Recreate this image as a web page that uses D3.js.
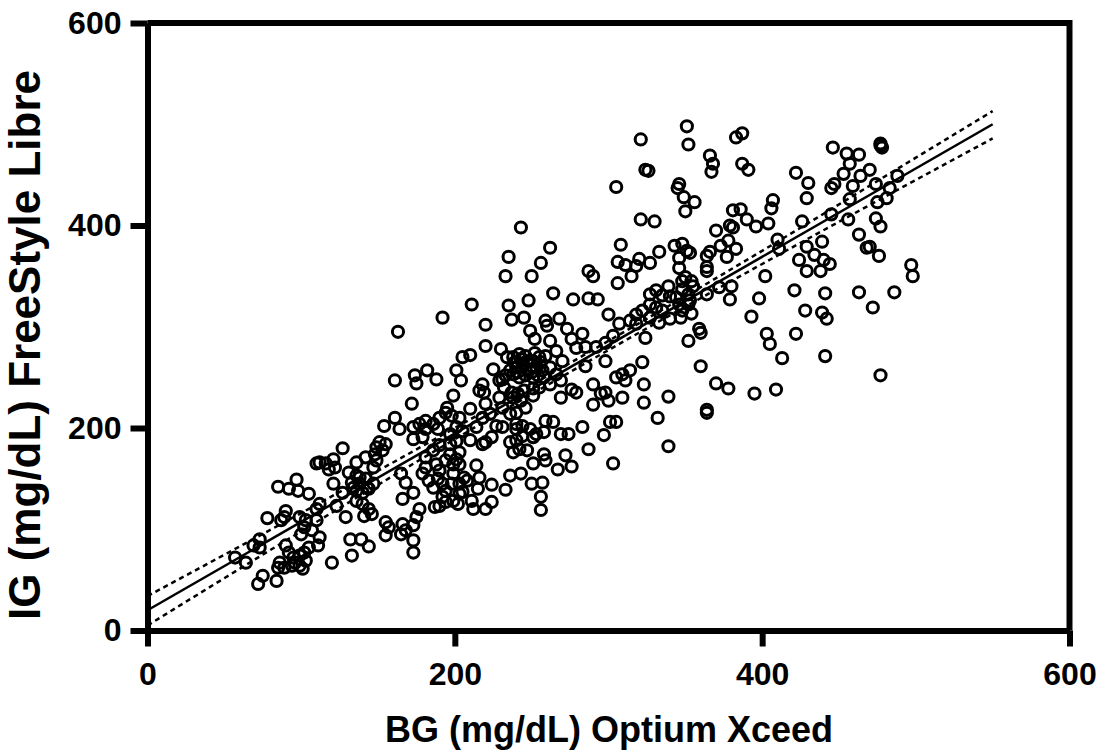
<!DOCTYPE html>
<html>
<head>
<meta charset="utf-8">
<script src="https://cdnjs.cloudflare.com/ajax/libs/d3/7.8.5/d3.min.js"></script>
<style>
  body { margin: 0; background: #fff; }
  svg { display: block; }
</style>
</head>
<body>
<svg id="chart"></svg>
<script>
// BG (Optium Xceed) and IG (FreeStyle Libre) pairs
const bgValues = [
  351,352,321,324,326,305,346,345,349,350,321,330,243,308,262,235,256,333,343,306,320,327,346,351,
  366,368,367,383,387,387,391,356,422,430,429,446,455,463,457,453,464,470,477,478,477,445,447,459,
  474,488,483,481,475,457,407,406,381,386,390,396,404,379,381,370,378,373,383,366,364,377,353,348,
  426,445,456,474,477,463,410,411,439,429,434,424,440,444,468,470,476,497,364,498,463,486,472,441,
  421,428,439,442,422,441,477,402,398,393,403,405,413,409,395,378,370,360,364,364,359,360,352,354,
  379,380,372,364,364,350,354,355,352,353,347,429,438,233,250,287,290,306,315,311,318,346,339,331,
  327,335,340,348,346,211,235,248,264,277,287,293,300,237,245,259,260,268,273,283,220,249,252,262,
  276,279,285,292,298,303,307,314,318,322,327,324,333,340,220,230,205,210,201,204,225,238,242,246,
  251,255,259,240,244,249,253,257,262,233,238,242,246,251,229,232,237,241,245,251,255,266,270,266,
  269,298,285,290,298,295,276,279,269,290,300,309,305,309,314,311,323,322,323,339,332,218,216,219,
  199,210,220,223,218,229,231,236,240,246,259,264,283,301,305,240,244,203,192,163,161,174,175,182,
  188,172,195,194,198,190,161,154,164,177,181,173,181,186,189,197,201,173,179,151,149,155,153,148,
  127,121,116,112,122,118,110,136,142,149,147,131,136,133,138,142,147,144,140,136,121,127,85,97,
  98,92,105,110,112,123,129,136,140,144,141,146,78,90,89,87,99,103,102,100,110,107,112,111,
  105,73,69,73,57,64,90,92,95,99,103,86,89,94,99,101,85,75,72,84,120,132,139,144,
  133,155,157,155,166,165,168,173,175,177,173,173,166,173,165,168,179,183,186,189,192,194,187,190,
  194,199,181,186,190,197,201,181,188,194,199,297,339,303,287,272,276,267,269,274,258,258,259,251,
  257,256,256,250,243,236,233,224,224,220,215,211,212,202,214,203,203,201,206,208,203,198,203,236,
  240,244,247,251,253,238,242,240,249,220,224,218,227,231,
  234,239,243,247,252,256,236,241,250,254,231,258,262,238,243,251,318,327,331,344,335,138,143,134,
  96,102,190,199,197,192,205,214,210,216,205,348,352,348
];
const igValues = [
  498,480,485,455,454,438,441,437,428,414,406,404,398,381,378,369,363,374,380,364,367,363,368,375,
  469,461,453,487,491,461,455,423,452,442,427,477,471,470,461,451,449,455,481,477,479,437,441,439,
  441,449,437,427,423,426,425,417,415,416,406,399,402,400,398,395,385,380,377,374,370,369,373,382,
  404,411,406,407,399,391,386,377,384,379,371,366,366,362,378,379,370,361,359,350,334,334,319,333,
  336,316,314,308,293,271,252,350,328,310,293,283,269,238,234,239,244,261,218,215,298,294,286,313,
  327,340,339,332,355,349,345,340,322,326,309,355,355,350,350,355,350,343,350,361,360,358,340,336,
  332,331,330,337,322,322,321,326,333,327,328,327,312,307,309,306,301,308,298,293,302,296,288,286,
  288,279,280,280,284,291,303,306,312,316,322,289,304,308,281,278,270,272,257,247,258,270,273,271,
  266,270,271,260,263,258,260,257,260,252,253,250,252,250,247,240,235,234,237,239,240,276,266,253,
  247,266,261,243,235,234,238,235,230,223,227,230,250,253,257,247,243,265,225,231,210,243,237,235,
  232,219,224,214,210,230,220,214,215,220,207,206,201,206,206,204,202,210,309,295,247,252,244,257,
  248,224,220,215,212,210,210,202,199,204,207,201,199,204,199,194,201,189,191,186,181,184,178,174,
  180,169,165,166,161,159,165,166,171,168,161,156,153,146,145,150,145,140,136,138,145,136,142,149,
  138,140,135,120,125,123,112,128,125,120,113,115,111,118,112,109,112,109,102,95,109,99,92,84,
  82,90,84,82,72,67,84,77,72,74,69,67,62,64,64,61,62,54,46,49,67,90,90,83,
  74,107,102,94,105,95,99,104,112,120,89,77,130,136,155,146,155,148,141,150,145,138,122,123,
  127,128,171,178,183,184,187,161,164,168,164,193,182,165,179,173,162,159,194,194,196,174,168,165,
  146,132,119,145,155,153,139,144,127,120,140,128,120,125,163,176,164,169,151,148,145,145,135,186,
  188,192,178,191,194,176,179,199,199,186,191,184,202,201,
  270,265,268,266,274,265,257,255,255,252,248,250,243,230,227,232,303,309,319,329,316,151,141,141,
  67,77,158,155,174,132,197,201,188,151,137,345,332,316
];

// linear fit and 95% band, read at a few BG values
const fitX = [0, 550];
const fitY = [20, 500];
const bandX = [0, 100, 200, 300, 400, 500, 550];
const upperY = [34, 116, 200, 286, 375, 467, 513];
const lowerY = [5, 98, 189, 277, 362, 445, 486];

const xTicks = [0, 200, 400, 600];
const yTicks = [0, 200, 400, 600];

const width = 1101;
const height = 756;
const font = "'Liberation Sans', Arial, Helvetica, sans-serif";

const svg = d3.select('#chart')
              .attr('width', width)
              .attr('height', height);

svg.append('rect')
   .attr('width', width)
   .attr('height', height)
   .attr('fill', '#fff');

const xScale = d3.scaleLinear().domain([0, 600]).range([147.5, 1069.5]);
const yScale = d3.scaleLinear().domain([0, 600]).range([630.5, 23]);

const points = bgValues.map((d, i) => ({bg: d, ig: igValues[i]}));

// scatter
svg.append('g')
   .selectAll('circle')
   .data(points)
   .enter()
   .append('circle')
   .attr('cx', d => xScale(d.bg))
   .attr('cy', d => yScale(d.ig))
   .attr('r', 5.6)
   .attr('fill', 'none')
   .attr('stroke', '#000')
   .attr('stroke-width', 3);

// regression line + confidence band
const fitLine = d3.line()
                  .x((d, i) => xScale(fitX[i]))
                  .y(d => yScale(d));

svg.append('path')
   .attr('d', fitLine(fitY))
   .attr('fill', 'none')
   .attr('stroke', '#000')
   .attr('stroke-width', 2.5);

const bandLine = d3.line()
                   .x((d, i) => xScale(bandX[i]))
                   .y(d => yScale(d))
                   .curve(d3.curveMonotoneX);

[upperY, lowerY].forEach(band => {
  svg.append('path')
     .attr('d', bandLine(band))
     .attr('fill', 'none')
     .attr('stroke', '#000')
     .attr('stroke-width', 2.5)
     .attr('stroke-dasharray', '5,4');
});

// axes
const xAxis = svg.append('g')
                 .attr('transform', `translate(0, ${yScale(0)})`)
                 .call(d3.axisBottom(xScale).tickValues(xTicks).tickSize(16).tickSizeOuter(0).tickPadding(16));

const yAxis = svg.append('g')
                 .attr('transform', `translate(${xScale(0)}, 0)`)
                 .call(d3.axisLeft(yScale).tickValues(yTicks).tickSize(17).tickSizeOuter(0).tickPadding(9));

[xAxis, yAxis].forEach(ax => {
  ax.selectAll('path, line')
    .attr('stroke', '#000')
    .attr('stroke-width', 6);
  ax.selectAll('text')
    .attr('fill', '#000')
    .style('font-family', font)
    .style('font-weight', 'bold')
    .style('font-size', '32px');
});

// top and right frame
svg.append('path')
   .attr('d', `M${xScale(0)},${yScale(600)}H${xScale(600) + 3}M${xScale(600)},${yScale(600)}V${yScale(0)}`)
   .attr('fill', 'none')
   .attr('stroke', '#000')
   .attr('stroke-width', 6);

// axis titles
svg.append('text')
   .attr('x', 609)
   .attr('y', 742)
   .attr('text-anchor', 'middle')
   .style('font-family', font)
   .style('font-weight', 'bold')
   .style('font-size', '36px')
   .text('BG (mg/dL) Optium Xceed');

svg.append('text')
   .attr('transform', 'translate(40, 345) rotate(-90)')
   .attr('text-anchor', 'middle')
   .style('font-family', font)
   .style('font-weight', 'bold')
   .style('font-size', '44px')
   .text('IG (mg/dL) FreeStyle Libre');
</script>
</body>
</html>
